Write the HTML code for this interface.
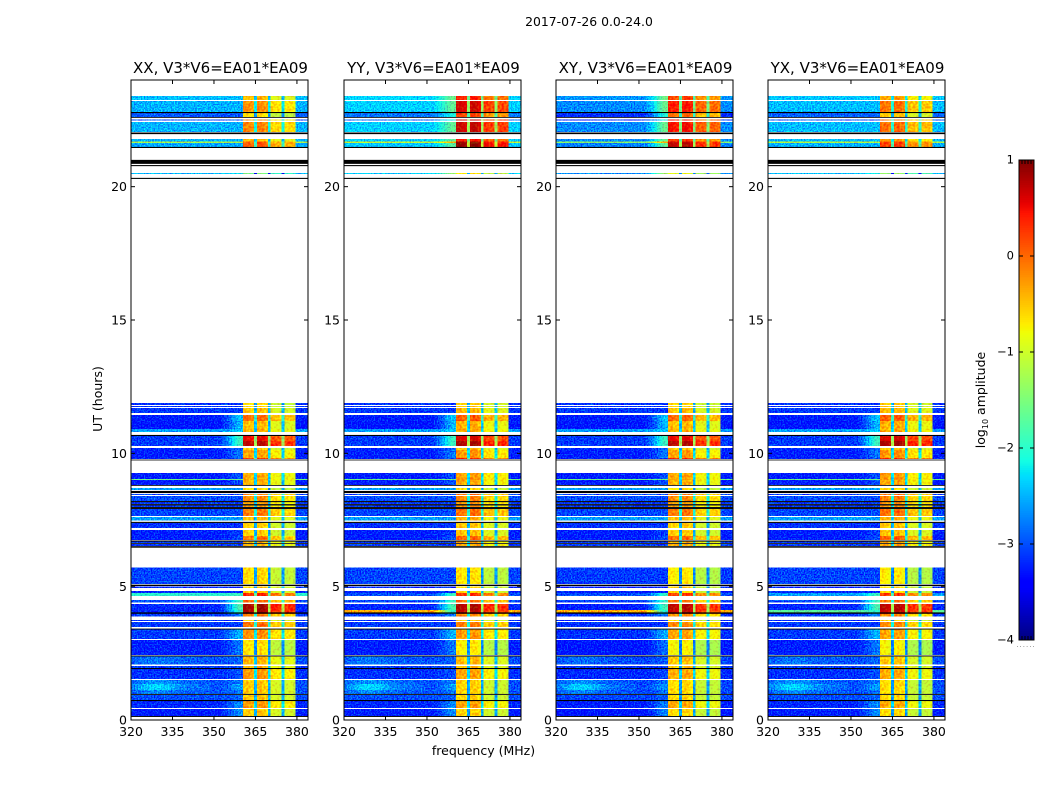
<!DOCTYPE html>
<html>
<head>
<meta charset="utf-8">
<title>2017-07-26 0.0-24.0</title>
<style>
html,body{margin:0;padding:0;background:#fff;width:1050px;height:800px;overflow:hidden}
svg{display:block}
text{font-family:"DejaVu Sans","Liberation Sans",sans-serif;fill:#000}
</style>
</head>
<body>
<svg id="chart" xmlns="http://www.w3.org/2000/svg" width="1050" height="800" viewBox="0 0 1050 800">
<defs>
<filter id="speckle" x="0" y="0" width="100%" height="100%" color-interpolation-filters="sRGB">
<feTurbulence type="fractalNoise" baseFrequency="0.7" numOctaves="1" seed="4" result="n"/>
<feColorMatrix in="n" type="matrix" values="0 0 0 0 0.5  2.5 0 0 0 -0.75  0 0 0 0 0.5  0 0 0 0 1" result="g"/>
<feComposite in="SourceGraphic" in2="g" operator="arithmetic" k1="0" k2="1" k3="0.6" k4="-0.3" result="m"/>
<feComposite in="m" in2="SourceGraphic" operator="in"/>
</filter>
<filter id="speckle-soft" x="0" y="0" width="100%" height="100%" color-interpolation-filters="sRGB">
<feTurbulence type="fractalNoise" baseFrequency="0.45" numOctaves="1" seed="9" result="n"/>
<feColorMatrix in="n" type="matrix" values="0 0 0 0 0.5  2.5 0 0 0 -0.75  0 0 0 0 0.5  0 0 0 0 1" result="g"/>
<feComposite in="SourceGraphic" in2="g" operator="arithmetic" k1="0" k2="1" k3="0.36" k4="-0.18" result="m"/>
<feComposite in="m" in2="SourceGraphic" operator="in"/>
</filter>
</defs>
</svg>
<script>
/* ---------- chart data ---------- */
const panelTitles = ["XX, V3*V6=EA01*EA09","YY, V3*V6=EA01*EA09","XY, V3*V6=EA01*EA09","YX, V3*V6=EA01*EA09"];
const xTickValues = [320,335,350,365,380];
const yTickValues = [0,5,10,15,20];
const colorbarTicks = [1,0,-1,-2,-3,-4];

/* UT-hour extent of each observed row, top to bottom */
const rowStart = [23.4,23.21,22.76,22.52,22.43,21.79,21.69,21.64,20.51,
 11.89,11.78,11.70,11.44,11.21,10.91,10.65,10.46,10.2,10.13,9.83,9.26,9.04,9.0,8.7,8.48,8.40,8.18,8.04,7.91,7.61,7.39,7.13,6.9,6.69,6.6,
 5.72,5.01,4.84,4.76,4.5,4.35,4.13,4.03,3.98,3.75,3.68,3.39,3.0,2.38,2.03,1.91,1.5,1.35,1.13,0.94,0.71,0.41];
const rowEnd = [23.25,22.8,22.61,22.48,22.05,21.69,21.64,21.49,20.48,
 11.81,11.74,11.51,11.21,10.91,10.80,10.46,10.28,10.13,9.83,9.79,9.04,9.0,8.81,8.63,8.44,8.21,8.10,7.99,7.65,7.48,7.2,6.9,6.75,6.64,6.53,
 5.1,4.95,4.76,4.65,4.41,4.13,4.03,3.98,3.88,3.71,3.49,3.04,2.44,2.08,1.95,1.54,1.35,1.13,0.98,0.75,0.45,0.15];
/* log10 amplitude of each row: outside the band, at the band shoulder, inside the band */
const rowOffBand = [-2.45,-2.5,-2.95,-3,-2.5,-2.5,-1.2,-2.55,-2.5,
 -3.15,-3.15,-3.1,-3.25,-3.3,-2.6,-3.1,-3.1,-3.2,-3.25,-3.2,-3.25,-1.6,-3.25,-2.6,-3.05,-3.0,-3.1,-3.1,-3.05,-2.6,-3.15,-3.25,-3.25,-3.1,-3.1,
 -3.05,-3.2,-3.2,-2.0,-3,-3.2,-3.2,-3.2,-3.1,-3.2,-3.1,-3.1,-3.25,-3,-3.1,-3.15,-3.0,-3.0,-3.0,-3,-3.2,-3.25];
const rowShoulder = [-2.45,-2.5,-2.95,-3,-2.5,-2.5,-1.2,-2.55,-2.2,
 -3.15,-3.15,-3.1,-2.4,-2.5,-2.4,-1.9,-1.9,-2.9,-2.8,-3,-3,-1.6,-3,-2.6,-3.05,-3,-3.1,-3.1,-3,-2.6,-3.15,-3.1,-3,-3.1,-3.1,
 -3.05,-3.2,-3.2,-1.9,-1.9,-1.8,-2,-2.2,-2.8,-3.2,-3.1,-2.5,-2.8,-2.9,-3,-3,-2.8,-2.6,-2.8,-2.9,-2.7,-2.7];
const rowInBand = [-0.55,-0.3,-0.75,-0.3,-0.25,-0.5,-0.05,0,-1.6,
 -0.7,-0.7,-0.6,-0.1,-0.55,-0.5,0.45,0.65,-0.65,-0.4,0.2,-0.45,-0.4,-0.5,-0.75,-0.2,-0.3,-0.4,-0.4,-0.2,-0.55,-0.65,-0.65,-0.15,-0.5,-0.5,
 -0.7,-0.6,-0.6,0.25,-0.1,0.75,0.7,0.3,-0.2,-0.6,-0.15,-0.3,-0.75,-0.5,-0.5,-0.35,-0.6,-0.6,-0.6,-0.6,-0.35,-0.6];
/* strength of the broad low-frequency wash seen in the early rows */
const rowWash = [0,0,0,0,0,0,0,0,0,
 0,0,0,0,0,0,0,0,0,0,0,0,0,0,0,0,0,0,0,0,0,0,0,0,0,0,
 0,0,0,0,0,0,0,0,0,0,0,0,0,0.2,0,0,0.35,0.7,0.3,0,0,0];
/* row group of each row: 0 evening block, 1 morning block, 2 early block */
const rowGroup = [0,0,0,0,0,0,0,0,0,
 1,1,1,1,1,1,1,1,1,1,1,1,1,1,1,1,1,1,1,1,1,1,1,1,1,1,
 2,2,2,2,2,2,2,2,2,2,2,2,2,2,2,2,2,2,2,2,2,2];

/* per-polarisation change of in-band and off-band level for each row group */
const onShiftXX = [0,0,0];
const onShiftYY = [0.85,0.08,-0.05];
const onShiftXY = [0.65,0.02,-0.1];
const onShiftYX = [0.15,0.08,-0.1];
const offShiftXX = [0,0,0];
const offShiftYY = [0.15,0,0];
const offShiftXY = [-0.2,0,-0.05];
const offShiftYX = [0.05,0,0];

/* extra shoulder lift of the top block for each polarisation */
const topShoulderLift = [0,0.7,1.1,0];

/* rows whose off-band level differs by polarisation (XX, YY, XY, YX) */
const streakRowStart = [4.76,4.13];
const streakOffBand4p76 = [-2.0,-3.0,-3.0,-2.6];
const streakOffBand4p13 = [-3.2,-0.35,-0.35,-1.7];

/* in-band channel response, 360–379 MHz (relative to row level) */
const bandProfile = [0.05,0.1,0.1,0.05,0,-1.9,0.1,0.15,0.1,0,-1.9,-0.3,-0.35,-0.35,-0.4,-1.9,-0.4,-0.35,-0.35,-0.45];
/* rise towards the band for channels 350–360 MHz */
const shoulderWeight = [0,0,0,0.1,0.2,0.35,0.5,0.7,0.85,1,1];
/* shape of the broad wash across channels 320–351 MHz */
const washProfile = [0.3,0.4,0.5,0.6,0.7,0.8,0.9,1,1,1,1,1,0.9,0.9,0.8,0.7,0.6,0.5,0.5,0.4,0.4,0.3,0.3,0.3,0.3,0.2,0.2,0.2,0.2,0.1,0.1,0.1];

/* full-width black flagged lines: UT hour and thickness in hours */
const flagHour = [22.78,22.59,22.0,21.47,20.93,20.79,20.31,10.67,9.75,8.79,8.55,8.19,8.07,7.95,7.41,6.71,6.62,6.49,5.05,4.01,3.41,2.4,1.93,0.96,0.73,0.13];
const flagThick = [0.04,0.03,0.06,0.04,0.15,0.04,0.04,0.04,0.03,0.03,0.08,0.04,0.05,0.07,0.04,0.04,0.03,0.055,0.05,0.05,0.035,0.035,0.04,0.035,0.04,0.035];

/* ---------- layout and helpers ---------- */
const svg = document.getElementById('chart');
const NS = 'http://www.w3.org/2000/svg';
const panelLeft = [131,344,556,768];
const panelWidth = 177;
const plotTop = 80, plotBottom = 720;
const bandEnd = 380, freqMin = 320, freqMax = 384, hourMax = 24;
const onShifts = [onShiftXX,onShiftYY,onShiftXY,onShiftYX];
const offShifts = [offShiftXX,offShiftYY,offShiftXY,offShiftYX];
const cbLeft = 1019, cbRight = 1034, cbTop = 160, cbBottom = 640;

function mk(tag, attrs, parent){
  const e = document.createElementNS(NS, tag);
  for (const k in attrs) e.setAttribute(k, attrs[k]);
  parent.appendChild(e);
  return e;
}
function xScale(p, f){ return panelLeft[p] + (f - freqMin) * panelWidth / (freqMax - freqMin); }
function yScale(h){ return plotBottom - h * (plotBottom - plotTop) / hourMax; }
function cbScale(v){ return cbBottom - (v + 4) * (cbBottom - cbTop) / 5; }
function ramp(t, pts){
  for (let i = 1; i < pts.length; i++){
    if (t <= pts[i][0]){
      const a = pts[i-1], b = pts[i];
      return a[1] + (b[1]-a[1]) * (t-a[0]) / (b[0]-a[0]);
    }
  }
  return pts[pts.length-1][1];
}
function jet(t){
  t = Math.max(0, Math.min(1, t));
  const r = ramp(t, [[0,0],[0.35,0],[0.66,1],[0.89,1],[1,0.5]]);
  const g = ramp(t, [[0,0],[0.125,0],[0.375,1],[0.64,1],[0.91,0],[1,0]]);
  const b = ramp(t, [[0,0.5],[0.11,1],[0.34,1],[0.65,0],[1,0]]);
  return 'rgb(' + Math.round(r*255) + ',' + Math.round(g*255) + ',' + Math.round(b*255) + ')';
}
function colorOf(v){ return jet((v + 4) / 5); }
function inBand(f){ return f >= 361 && f < bandEnd; }

function cellValue(p, row, f){
  const g = rowGroup[row];
  let off = rowOffBand[row] + offShifts[p][g];
  if (rowStart[row] === streakRowStart[0]) off = streakOffBand4p76[p];
  if (rowStart[row] === streakRowStart[1]) off = streakOffBand4p13[p];
  if (inBand(f)){
    return rowInBand[row] + onShifts[p][g] + bandProfile[f - 360];
  }
  if (f >= 350 && f <= 360){
    let sh = rowShoulder[row] + offShifts[p][g];
    if (g === 0) sh += topShoulderLift[p];
    const w = shoulderWeight[f - 350];
    return off + (sh - off) * w;
  }
  if (f < 352 && rowWash[row] > 0){
    return off + rowWash[row] * washProfile[f - 320];
  }
  return off;
}

/* ---------- figure text ---------- */
const suptitle = mk('text', {x:589, y:26, 'font-size':'12.4px', 'text-anchor':'middle'}, svg);
suptitle.textContent = '2017-07-26 0.0-24.0';



const xlabel = mk('text', {x:483.5, y:755, 'font-size':'12.5px', 'text-anchor':'middle'}, svg);
xlabel.textContent = 'frequency (MHz)';



const ylabel = mk('text', {x:0, y:0, 'font-size':'12.5px', 'text-anchor':'middle', transform:'translate(102,399) rotate(-90)'}, svg);
ylabel.textContent = 'UT (hours)';



/* ---------- panels ---------- */
panelTitles.forEach(function(title, p){
  const left = panelLeft[p], right = left + panelWidth;
  const panel = mk('g', {}, svg);
  
  

  const heatOff = mk('g', {filter:'url(#speckle)', 'shape-rendering':'crispEdges'}, panel);
  
  
  const heatOn = mk('g', {filter:'url(#speckle-soft)', 'shape-rendering':'crispEdges'}, panel);
  
  
  for (let r = 0; r < rowStart.length; r++){
    const y0 = yScale(rowStart[r]), y1 = yScale(rowEnd[r]);
    for (let f = freqMin; f <= freqMax; f++){
      const x0 = Math.max(left, xScale(p, f - 0.5)), x1 = Math.min(right, xScale(p, f + 0.5));
      const parent = inBand(f) ? heatOn : heatOff;
      const cell = mk('rect', {x:x0.toFixed(2), y:y0.toFixed(2), width:(x1-x0).toFixed(2), height:(y1-y0).toFixed(2), fill:colorOf(cellValue(p, r, f))}, parent);
      
      
    }
  }

  flagHour.forEach(function(h, i){
    const line = mk('rect', {x:left, y:(yScale(h) - flagThick[i]*(plotBottom-plotTop)/hourMax/2).toFixed(2), width:panelWidth, height:(flagThick[i]*(plotBottom-plotTop)/hourMax).toFixed(2), fill:'#000'}, panel);
    
    
  });

  const frame = mk('rect', {x:left, y:plotTop, width:panelWidth, height:plotBottom-plotTop, fill:'none', stroke:'#000', 'stroke-width':1}, panel);
  
  

  xTickValues.forEach(function(v){
    const x = xScale(p, v);
    const t1 = mk('line', {x1:x, x2:x, y1:plotBottom, y2:plotBottom-4, stroke:'#000'}, panel);
    
    
    const t2 = mk('line', {x1:x, x2:x, y1:plotTop, y2:plotTop+4, stroke:'#000'}, panel);
    
    
    const lab = mk('text', {x:x, y:plotBottom+16, 'font-size':'12.5px', 'text-anchor':'middle'}, panel);
    lab.textContent = v;
    
    
  });

  yTickValues.forEach(function(v){
    const y = yScale(v);
    const t1 = mk('line', {x1:left, x2:left+4, y1:y, y2:y, stroke:'#000'}, panel);
    
    
    const t2 = mk('line', {x1:right, x2:right-4, y1:y, y2:y, stroke:'#000'}, panel);
    
    
    const lab = mk('text', {x:left-4, y:y+4.5, 'font-size':'12.5px', 'text-anchor':'end'}, panel);
    lab.textContent = v;
    
    
  });

  const ttl = mk('text', {x:left+panelWidth/2+1, y:73, 'font-size':'15px', 'text-anchor':'middle'}, panel);
  ttl.textContent = title;
  
  
});

/* ---------- colorbar ---------- */
const cb = mk('g', {}, svg);


const cbRamp = mk('g', {'shape-rendering':'crispEdges'}, cb);


for (let i = 0; i < 256; i++){
  const y1 = cbBottom - i * (cbBottom - cbTop) / 256;
  const y0 = cbBottom - (i + 1) * (cbBottom - cbTop) / 256;
  mk('rect', {x:cbLeft, y:y0.toFixed(2), width:cbRight-cbLeft, height:(y1-y0+0.5).toFixed(2), fill:jet((i+0.5)/256)}, cbRamp);
}
const cbFrame = mk('rect', {x:cbLeft, y:cbTop, width:cbRight-cbLeft, height:cbBottom-cbTop, fill:'none', stroke:'#000'}, cb);


colorbarTicks.forEach(function(v){
  const y = cbScale(v);
  const t1 = mk('line', {x1:cbLeft, x2:cbLeft+4, y1:y, y2:y, stroke:'#000'}, cb);
  
  
  const t2 = mk('line', {x1:cbRight, x2:cbRight-4, y1:y, y2:y, stroke:'#000'}, cb);
  
  
  const lab = mk('text', {x:cbLeft-5, y:y+3.5, 'font-size':'11.5px', 'text-anchor':'end'}, cb);
  lab.textContent = v < 0 ? '\u2212' + (-v) : String(v);
  
  
});
for (let i = 1; i <= 4; i++){
  const x = cbLeft + i * (cbRight - cbLeft) / 5;
  const a = mk('line', {x1:x, x2:x, y1:cbTop, y2:cbTop+4, stroke:'#000'}, cb);
  
  
  const b = mk('line', {x1:x, x2:x, y1:cbBottom, y2:cbBottom-4, stroke:'#000'}, cb);
  
  
}
const dots = mk('text', {x:1026, y:647, 'font-size':'7px', 'text-anchor':'middle', style:'fill:#777;letter-spacing:1px'}, cb);
dots.textContent = '......';



const cbLabel = mk('text', {x:0, y:0, 'font-size':'12.5px', 'text-anchor':'middle', transform:'translate(985,400) rotate(-90)'}, cb);


const l1 = mk('tspan', {}, cbLabel); l1.textContent = 'log';
const l2 = mk('tspan', {'font-size':'8px', dy:'3'}, cbLabel); l2.textContent = '10';
const l3 = mk('tspan', {dy:'-3'}, cbLabel); l3.textContent = ' amplitude';
</script>
</body>
</html>
